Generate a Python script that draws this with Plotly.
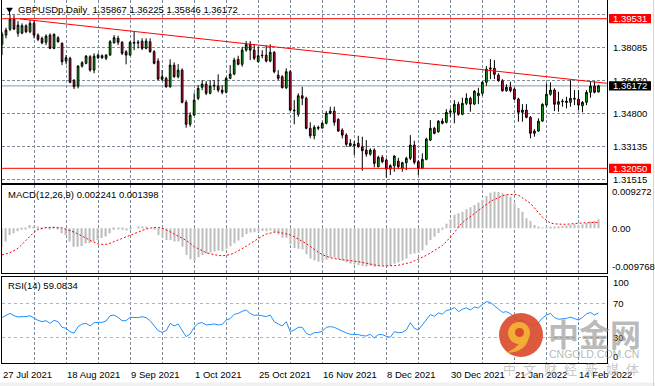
import plotly.graph_objects as go

W, H = 655, 386

# ---------------- data ----------------
bars = list(range(150))
opens = [1.3825,1.3871,1.3900,1.3951,1.3880,1.3881,1.3918,1.3888,1.3930,1.3871,
         1.3855,1.3835,1.3871,1.3805,1.3858,1.3830,1.3741,1.3755,1.3645,1.3616,
         1.3716,1.3730,1.3763,1.3696,1.3771,1.3758,1.3755,1.3771,1.3833,1.3855,
         1.3835,1.3788,1.3771,1.3835,1.3831,1.3841,1.3805,1.3838,1.3788,1.3741,
         1.3650,1.3655,1.3613,1.3721,1.3663,1.3696,1.3535,1.3425,1.3471,1.3555,
         1.3610,1.3626,1.3580,1.3616,1.3616,1.3596,1.3585,1.3655,1.3676,1.3750,
         1.3725,1.3796,1.3825,1.3796,1.3738,1.3768,1.3771,1.3741,1.3785,1.3671,
         1.3663,1.3608,1.3688,1.3496,1.3475,1.3568,1.3555,1.3405,1.3368,1.3410,
         1.3406,1.3430,1.3480,1.3491,1.3450,1.3396,1.3371,1.3330,1.3318,1.3330,
         1.3313,1.3296,1.3276,1.3296,1.3213,1.3260,1.3246,1.3201,1.3218,1.3241,
         1.3205,1.3233,1.3255,1.3321,1.3238,1.3205,1.3250,1.3346,1.3405,1.3388,
         1.3441,1.3435,1.3485,1.3485,1.3525,1.3475,1.3530,1.3555,1.3526,1.3568,
         1.3580,1.3635,1.3701,1.3705,1.3671,1.3643,1.3593,1.3610,1.3601,1.3551,
         1.3485,1.3496,1.3460,1.3380,1.3391,1.3441,1.3521,1.3575,1.3596,1.3525,
         1.3538,1.3541,1.3535,1.3555,1.3551,1.3518,1.3535,1.3585,1.3616,1.35867]
highs = [1.3888,1.3908,1.3975,1.3971,1.3941,1.3930,1.3925,1.3946,1.3941,1.3880,
         1.3863,1.3875,1.3880,1.3880,1.3866,1.3835,1.3771,1.3763,1.3651,1.3721,
         1.3741,1.3771,1.3771,1.3780,1.3780,1.3775,1.3776,1.3846,1.3871,1.3868,
         1.3841,1.3796,1.3841,1.3888,1.3846,1.3855,1.3855,1.3855,1.3796,1.3755,
         1.3696,1.3663,1.3750,1.3735,1.3726,1.3705,1.3546,1.3485,1.3580,1.3621,
         1.3646,1.3641,1.3646,1.3646,1.3675,1.3621,1.3663,1.3721,1.3758,1.3768,
         1.3813,1.3841,1.3841,1.3825,1.3813,1.3796,1.3821,1.3825,1.3791,1.3696,
         1.3671,1.3705,1.3696,1.3546,1.3580,1.3613,1.3563,1.3435,1.3421,1.3418,
         1.3438,1.3491,1.3513,1.3513,1.3455,1.3405,1.3380,1.3351,1.3341,1.3368,
         1.3363,1.3346,1.3305,1.3305,1.3268,1.3271,1.3255,1.3225,1.3271,1.3258,
         1.3238,1.3263,1.3371,1.3343,1.3246,1.3280,1.3358,1.3446,1.3413,1.3446,
         1.3455,1.3501,1.3505,1.3546,1.3538,1.3558,1.3580,1.3563,1.3596,1.3608,
         1.3641,1.3716,1.3751,1.3746,1.3680,1.3651,1.3625,1.3638,1.3608,1.3558,
         1.3526,1.3526,1.3466,1.3401,1.3455,1.3530,1.3630,1.3635,1.3605,1.3588,
         1.3551,1.3563,1.3646,1.3596,1.3596,1.3541,1.3596,1.3638,1.3641,1.36225]
lows = [1.3771,1.3855,1.3891,1.3896,1.3863,1.3875,1.3881,1.3880,1.3855,1.3841,
        1.3825,1.3821,1.3801,1.3800,1.3833,1.3721,1.3725,1.3630,1.3601,1.3605,
        1.3708,1.3725,1.3688,1.3680,1.3751,1.3751,1.3746,1.3768,1.3828,1.3821,
        1.3771,1.3725,1.3768,1.3796,1.3805,1.3796,1.3800,1.3783,1.3725,1.3646,
        1.3641,1.3608,1.3608,1.3658,1.3655,1.3530,1.3408,1.3413,1.3468,1.3546,
        1.3596,1.3571,1.3575,1.3596,1.3585,1.3575,1.3580,1.3651,1.3671,1.3720,
        1.3713,1.3788,1.3746,1.3746,1.3735,1.3755,1.3735,1.3735,1.3680,1.3646,
        1.3605,1.3601,1.3491,1.3425,1.3463,1.3521,1.3400,1.3355,1.3350,1.3396,
        1.3405,1.3425,1.3475,1.3418,1.3388,1.3355,1.3313,1.3313,1.3271,1.3308,
        1.3193,1.3263,1.3268,1.3210,1.3210,1.3230,1.3158,1.3171,1.3188,1.3201,
        1.3188,1.3196,1.3246,1.3225,1.3171,1.3201,1.3245,1.3341,1.3375,1.3383,
        1.3425,1.3430,1.3463,1.3430,1.3468,1.3471,1.3521,1.3488,1.3521,1.3526,
        1.3568,1.3618,1.3651,1.3651,1.3638,1.3588,1.3588,1.3585,1.3546,1.3438,
        1.3438,1.3455,1.3355,1.3363,1.3388,1.3438,1.3513,1.3568,1.3491,1.3488,
        1.3513,1.3505,1.3513,1.3521,1.3496,1.3485,1.3521,1.3558,1.3580,1.35846]
closes = [1.3875,1.3896,1.3951,1.3901,1.3921,1.3918,1.3888,1.3930,1.3871,1.3850,
          1.3833,1.3866,1.3805,1.3875,1.3838,1.3738,1.3758,1.3635,1.3613,1.3716,
          1.3733,1.3766,1.3696,1.3766,1.3758,1.3768,1.3771,1.3838,1.3858,1.3835,
          1.3780,1.3771,1.3835,1.3831,1.3835,1.3805,1.3841,1.3788,1.3730,1.3651,
          1.3663,1.3613,1.3721,1.3663,1.3696,1.3535,1.3425,1.3471,1.3546,1.3605,
          1.3626,1.3580,1.3616,1.3620,1.3596,1.3585,1.3655,1.3676,1.3746,1.3725,
          1.3796,1.3825,1.3796,1.3755,1.3768,1.3770,1.3741,1.3785,1.3688,1.3655,
          1.3608,1.3688,1.3496,1.3493,1.3568,1.3555,1.3405,1.3368,1.3410,1.3406,
          1.3430,1.3480,1.3491,1.3435,1.3391,1.3371,1.3325,1.3318,1.3325,1.3313,
          1.3293,1.3276,1.3296,1.3230,1.3260,1.3238,1.3201,1.3218,1.3266,1.3213,
          1.3233,1.3255,1.3321,1.3235,1.3205,1.3250,1.3351,1.3405,1.3380,1.3441,
          1.3430,1.3485,1.3491,1.3525,1.3475,1.3530,1.3555,1.3526,1.3591,1.3580,
          1.3635,1.3701,1.3706,1.3675,1.3643,1.3593,1.3610,1.3593,1.3551,1.3485,
          1.3496,1.3460,1.3380,1.3391,1.3441,1.3525,1.3575,1.3596,1.3525,1.3538,
          1.3540,1.3535,1.3555,1.3551,1.3521,1.3535,1.3585,1.3616,1.3585,1.36172]

macd_main = [-0.0047,-0.0034,-0.0017,-0.0013,-0.0008,-0.0004,-0.0003,0.0008,0.0004,0.0002,
             -0.0001,0.0001,-0.0002,0.0002,-0.0001,-0.0013,-0.0017,-0.0034,-0.0047,-0.0047,
             -0.0045,-0.0038,-0.0038,-0.0034,-0.0030,-0.0025,-0.0021,-0.0013,-0.0004,-0.0003,
             -0.0004,-0.0006,-0.0003,0.0000,0.0004,0.0003,0.0004,0.0000,-0.0004,-0.0017,
             -0.0023,-0.0030,-0.0030,-0.0034,-0.0034,-0.0047,-0.0068,-0.0079,-0.0083,-0.0074,
             -0.0068,-0.0065,-0.0062,-0.0059,-0.0057,-0.0058,-0.0052,-0.0046,-0.0038,-0.0031,
             -0.0023,-0.0015,-0.0011,-0.0010,-0.0008,-0.0007,-0.0008,-0.0006,-0.0010,-0.0016,
             -0.0024,-0.0024,-0.0040,-0.0050,-0.0052,-0.0054,-0.0066,-0.0077,-0.0082,-0.0085,
             -0.0085,-0.0080,-0.0075,-0.0075,-0.0078,-0.0082,-0.0087,-0.0090,-0.0092,-0.0094,
             -0.0096,-0.0097,-0.0096,-0.0098,-0.0096,-0.0095,-0.0097,-0.0096,-0.0090,-0.0087,
             -0.0082,-0.0077,-0.0066,-0.0064,-0.0063,-0.0056,-0.0043,-0.0030,-0.0022,-0.0012,
             -0.0004,0.0011,0.0023,0.0034,0.0038,0.0042,0.0048,0.0053,0.0059,0.0065,
             0.0072,0.0082,0.0090,0.00927,0.0092,0.0089,0.0085,0.0080,0.0063,0.0051,
             0.0042,0.0025,0.0018,0.0008,0.0004,0.0001,0.0002,0.0004,0.0003,0.0005,
             0.0006,0.0007,0.0009,0.0010,0.0009,0.0010,0.0013,0.0017,0.0018,0.002241]
macd_signal = [-0.0068,-0.0065,-0.0062,-0.0057,-0.0051,-0.0041,-0.0030,-0.0021,-0.0010,-0.0003,
               0.0000,0.0002,0.0002,0.0002,0.0002,0.0001,-0.0003,-0.0006,-0.0010,-0.0015,
               -0.0019,-0.0025,-0.0031,-0.0036,-0.0040,-0.0041,-0.0041,-0.0038,-0.0034,-0.0030,
               -0.0025,-0.0021,-0.0017,-0.0013,-0.0008,-0.0004,-0.0002,0.0000,0.0002,0.0002,
               0.0000,-0.0004,-0.0009,-0.0014,-0.0019,-0.0025,-0.0031,-0.0038,-0.0047,-0.0052,
               -0.0058,-0.0062,-0.0065,-0.0068,-0.0069,-0.0070,-0.0069,-0.0067,-0.0063,-0.0058,
               -0.0052,-0.0046,-0.0039,-0.0032,-0.0026,-0.0020,-0.0015,-0.0012,-0.0010,-0.0010,
               -0.0012,-0.0014,-0.0017,-0.0022,-0.0027,-0.0032,-0.0039,-0.0046,-0.0054,-0.0061,
               -0.0067,-0.0072,-0.0075,-0.0077,-0.0079,-0.0080,-0.0081,-0.0082,-0.0083,-0.0085,
               -0.0087,-0.0089,-0.0092,-0.0094,-0.0095,-0.0096,-0.0096,-0.0096,-0.0095,-0.0094,
               -0.0092,-0.0090,-0.0087,-0.0083,-0.0079,-0.0074,-0.0069,-0.0063,-0.0057,-0.0051,
               -0.0044,-0.0034,-0.0023,-0.0011,0.0003,0.0014,0.0022,0.0030,0.0037,0.0044,
               0.0052,0.0060,0.0068,0.0073,0.0078,0.0082,0.0085,0.0086,0.0086,0.0084,
               0.0078,0.0070,0.0063,0.0052,0.0040,0.0028,0.0020,0.0013,0.0011,0.0010,
               0.0010,0.0010,0.0011,0.0012,0.0013,0.0013,0.0014,0.0014,0.0015,0.001398]
rsi = [53.4,55.7,58.5,55.7,54.2,54.6,54.6,55.7,52.6,50.2,
       48.6,49.8,46.6,50.2,48.6,41.9,40.7,36.7,34.8,42.7,
       45.8,46.6,43.5,47.4,47.8,47.8,49.4,55.7,56.5,53.8,
       49.8,49.8,53.8,53.8,53.4,54.6,53.4,49.8,43.9,37.9,
       35.9,37.9,46.6,43.5,45.8,37.5,30.8,34.0,41.9,46.6,
       47.4,44.7,45.4,45.8,44.7,45.4,50.6,52.2,57.3,58.5,
       60.9,62.5,58.5,56.1,56.5,55.7,54.6,56.5,48.6,45.8,
       43.5,48.6,36.7,38.7,41.9,41.9,34.8,32.8,35.5,35.9,
       37.1,41.9,42.7,41.9,39.5,37.5,35.2,33.6,33.6,33.2,
       32.0,31.6,33.6,29.2,33.2,33.2,31.2,30.0,36.7,35.5,
       35.9,38.7,47.4,40.7,38.7,44.7,51.5,57.0,55.0,59.0,
       57.5,62.0,62.8,65.5,60.5,63.5,65.0,62.5,66.0,65.0,
       69.0,72.4,71.5,67.6,64.5,59.7,60.5,58.0,54.2,49.0,
       50.5,48.0,44.0,45.0,47.5,53.0,56.5,58.5,53.5,51.5,
       52.0,52.5,54.0,52.5,50.6,53.5,58.0,59.5,56.5,59.08]

date_labels = ["27 Jul 2021", "18 Aug 2021", "9 Sep 2021", "1 Oct 2021", "25 Oct 2021",
               "16 Nov 2021", "8 Dec 2021", "30 Dec 2021", "21 Jan 2022", "14 Feb 2022"]
date_label_bars = [0, 16, 32, 48, 64, 80, 96, 112, 128, 144]
vgrid_bars = [8 * k for k in range(1, 19)]
price_ticks = [1.31515, 1.33135, 1.34800, 1.36430, 1.38085]
price_tick_labels = ["1.31515", "1.33135", "1.34800", "1.36430", "1.38085"]
price_grid = price_ticks + [1.39750]
level_lines = [1.39531, 1.32050]
level_labels = ["1.39531", "1.32050"]
last_price = 1.36172
last_label = "1.36172"
trend_bars = [4.5, 151.1]
trend_prices = [1.3952, 1.3630]
macd_ticks = [0.009272, 0.0, -0.009768]
macd_tick_labels = ["0.009272", "0.00", "-0.009768"]
rsi_levels = [30, 70]
rsi_ticks = [100, 70, 30, 0]
rsi_tick_labels = ["100", "70", "30", "0"]
title_text = "GBPUSDp,Daily\u00a0\u00a01.35867 1.36225 1.35846 1.36172"
macd_text = "MACD(12,26,9) 0.002241 0.001398"
rsi_text = "RSI(14) 59.0834"

# ---------------- style / layout ----------------
FONT = "Liberation Sans"
FS = 9.5
GREEN = "#1fbd1f"
RED = "#dc143c"
GRID = "#7d8a98"


def px(x):
    return x / W


def py(y):
    return 1 - y / H


XDOM = [px(1.5), px(607)]
XR = [-0.125, 151.125]
MAIN_DOM = [py(182.5), 1.0]
MACD_DOM = [py(273), py(184.5)]
RSI_DOM = [py(363.3), py(276.5)]
MAIN_R = [1.31341, 1.40466]
MACD_R = [-0.011374, 0.011094]
RSI_R = [-0.95, 102.38]

fig = go.Figure()

fig.add_trace(go.Candlestick(
    x=bars, open=opens, high=highs, low=lows, close=closes,
    increasing=dict(fillcolor=GREEN, line=dict(color="black", width=1)),
    decreasing=dict(fillcolor=RED, line=dict(color="black", width=1)),
    whiskerwidth=0, xaxis="x", yaxis="y", hoverinfo="skip", showlegend=False))

fig.add_trace(go.Scatter(x=trend_bars, y=trend_prices, mode="lines",
                         line=dict(color="#ff0000", width=1), xaxis="x", yaxis="y",
                         hoverinfo="skip", showlegend=False))

fig.add_trace(go.Bar(x=bars, y=macd_main, width=0.3, marker=dict(color="#bdbdbd", line=dict(width=0)),
                     xaxis="x2", yaxis="y2", hoverinfo="skip", showlegend=False))
fig.add_trace(go.Scatter(x=bars, y=macd_signal, mode="lines",
                         line=dict(color="#ff0000", width=1, dash="2px,2px"),
                         xaxis="x2", yaxis="y2", hoverinfo="skip", showlegend=False))

fig.add_trace(go.Scatter(x=bars, y=rsi, mode="lines", line=dict(color="#1e90ff", width=1),
                         xaxis="x3", yaxis="y3", hoverinfo="skip", showlegend=False))

xcommon = dict(domain=XDOM, range=XR, showline=True, mirror=True, linecolor="black", linewidth=1,
               tickvals=vgrid_bars, showticklabels=False, ticks="", showgrid=True,
               gridcolor=GRID, griddash="3px,2px", gridwidth=1, zeroline=False, fixedrange=True)
ycommon = dict(showline=True, mirror=True, linecolor="black", linewidth=1, showticklabels=False,
               ticks="", zeroline=False, fixedrange=True)

fig.update_layout(
    width=W, height=H, margin=dict(l=0, r=0, t=0, b=0),
    paper_bgcolor="white", plot_bgcolor="white",
    font=dict(family=FONT, size=FS, color="black"),
    boxgap=0.4, showlegend=False,
    xaxis=dict(**xcommon, anchor="y", rangeslider=dict(visible=False)),
    xaxis2=dict(**xcommon, anchor="y2", matches="x"),
    xaxis3=dict(**xcommon, anchor="y3", matches="x"),
    yaxis=dict(**ycommon, domain=MAIN_DOM, range=MAIN_R, anchor="x", tickvals=price_grid,
               showgrid=True, gridcolor=GRID, griddash="3px,2px"),
    yaxis2=dict(**ycommon, domain=MACD_DOM, range=MACD_R, anchor="x2", showgrid=False),
    yaxis3=dict(**ycommon, domain=RSI_DOM, range=RSI_R, anchor="x3", tickvals=rsi_levels,
                showgrid=True, gridcolor="#b4b4b4", griddash="3px,3px"),
)

shapes = []
ann = []

# current price line
shapes.append(dict(type="line", xref="x domain", yref="y", x0=0, x1=1, y0=last_price, y1=last_price,
                   line=dict(color="#8e98a3", width=1), layer="below"))
# horizontal red levels
for v in level_lines:
    shapes.append(dict(type="line", xref="x domain", yref="y", x0=0, x1=1, y0=v, y1=v,
                       line=dict(color="#ff0000", width=1)))

# price labels
for v, t in zip(price_ticks, price_tick_labels):
    ann.append(dict(x=px(611), y=v, xref="paper", yref="y", text=t, showarrow=False,
                    xanchor="left", yanchor="middle", font=dict(size=FS, color="black")))
for v, t in zip(level_lines, level_labels):
    shapes.append(dict(type="rect", xref="paper", yref="y", x0=px(609), x1=px(651),
                       y0=v - 0.0023, y1=v + 0.0023, fillcolor="#ff0000", line=dict(width=0)))
    ann.append(dict(x=px(611), y=v, xref="paper", yref="y", text=t, showarrow=False,
                    xanchor="left", yanchor="middle", font=dict(size=FS, color="white")))
shapes.append(dict(type="rect", xref="paper", yref="y", x0=px(609), x1=px(651),
                   y0=last_price - 0.0023, y1=last_price + 0.0023, fillcolor="black", line=dict(width=0)))
ann.append(dict(x=px(611), y=last_price, xref="paper", yref="y", text=last_label, showarrow=False,
                xanchor="left", yanchor="middle", font=dict(size=FS, color="white")))

# MACD labels
for v, t in zip(macd_ticks, macd_tick_labels):
    ann.append(dict(x=px(610), y=v, xref="paper", yref="y2", text=t, showarrow=False,
                    xanchor="left", yanchor="middle", font=dict(size=FS, color="black")))
# RSI labels (edge labels nudged inside like the terminal does)
rsi_shift = {100: -4, 70: 0, 30: 0, 0: 6}
for v, t in zip(rsi_ticks, rsi_tick_labels):
    ann.append(dict(x=px(611), y=v, xref="paper", yref="y3", text=t, showarrow=False,
                    xanchor="left", yanchor="middle", yshift=rsi_shift[v],
                    font=dict(size=FS, color="black")))

# date labels
for b, t in zip(date_label_bars, date_labels):
    ann.append(dict(x=b, y=py(374), xref="x", yref="paper", text=t, showarrow=False,
                    xanchor="left", yanchor="middle", xshift=-1, font=dict(size=FS, color="black")))

# panel captions
ann.append(dict(x=px(16), y=py(10), xref="paper", yref="paper", text=title_text, showarrow=False,
                xanchor="left", yanchor="middle", font=dict(size=FS, color="black")))
ann.append(dict(x=px(5.5), y=py(194), xref="paper", yref="paper", text=macd_text, showarrow=False,
                xanchor="left", yanchor="middle", font=dict(size=FS, color="black")))
ann.append(dict(x=px(5.5), y=py(285), xref="paper", yref="paper", text=rsi_text, showarrow=False,
                xanchor="left", yanchor="middle", font=dict(size=FS, color="black")))

# little menu triangle
shapes.append(dict(type="path", xref="paper", yref="paper",
                   path=f"M {px(6.5)} {py(8)} L {px(12.5)} {py(8)} L {px(9.5)} {py(12.5)} Z",
                   fillcolor="black", line=dict(color="black", width=0.5)))
shapes.append(dict(type="line", xref="paper", yref="paper", x0=px(9.5), x1=px(9.5), y0=py(12), y1=py(15),
                   line=dict(color="black", width=1)))

# window frame bits
shapes.append(dict(type="rect", xref="paper", yref="paper", x0=0, x1=1, y0=0, y1=py(382.5),
                   fillcolor="#f0f0f0", line=dict(width=0)))
shapes.append(dict(type="line", xref="paper", yref="paper", x0=px(653.5), x1=px(653.5), y0=0, y1=1,
                   line=dict(color="#d6d6d6", width=1)))

# watermark logo
shapes.append(dict(type="circle", xref="paper", yref="paper", x0=px(499), x1=px(543), y0=py(357), y1=py(313),
                   fillcolor="#d9482a", line=dict(width=0), opacity=0.9))
shapes.append(dict(type="circle", xref="paper", yref="paper", x0=px(508), x1=px(530), y0=py(344), y1=py(322),
                   fillcolor="#f2b035", line=dict(width=0), opacity=0.95))
shapes.append(dict(type="circle", xref="paper", yref="paper", x0=px(515), x1=px(524), y0=py(337), y1=py(328),
                   fillcolor="#d9482a", line=dict(width=0), opacity=0.95))
shapes.append(dict(type="path", xref="paper", yref="paper",
                   path=(f"M {px(529)} {py(335)} Q {px(528)} {py(352)} {px(506)} {py(353)} "
                         f"Q {px(521)} {py(346)} {px(522)} {py(337)} Z"),
                   fillcolor="#f2b035", line=dict(width=0), opacity=0.95))
ann.append(dict(x=px(594), y=py(332), xref="paper", yref="paper", text="<b>中金网</b>", showarrow=False,
                xanchor="center", yanchor="middle",
                font=dict(family="Noto Sans CJK SC", size=31, color="rgba(140,140,140,0.6)")))
ann.append(dict(x=px(594), y=py(354), xref="paper", yref="paper", text="CNGOLD.COM.CN", showarrow=False,
                xanchor="center", yanchor="middle",
                font=dict(family=FONT, size=10.5, color="rgba(150,150,150,0.7)")))
for k, ch in enumerate("中文财经新媒体"):
    ann.append(dict(x=px(509 + 20.6 * k), y=py(368), xref="paper", yref="paper", text=ch, showarrow=False,
                    xanchor="center", yanchor="middle",
                    font=dict(family="Noto Sans CJK SC", size=13, color="rgba(175,175,175,0.7)")))

fig.update_layout(shapes=shapes, annotations=ann)
fig.write_html("out.html", config={"displayModeBar": False},
               post_script="document.body.style.margin='0px';document.body.style.padding='0px';"
                           "document.body.style.overflow='hidden';")
